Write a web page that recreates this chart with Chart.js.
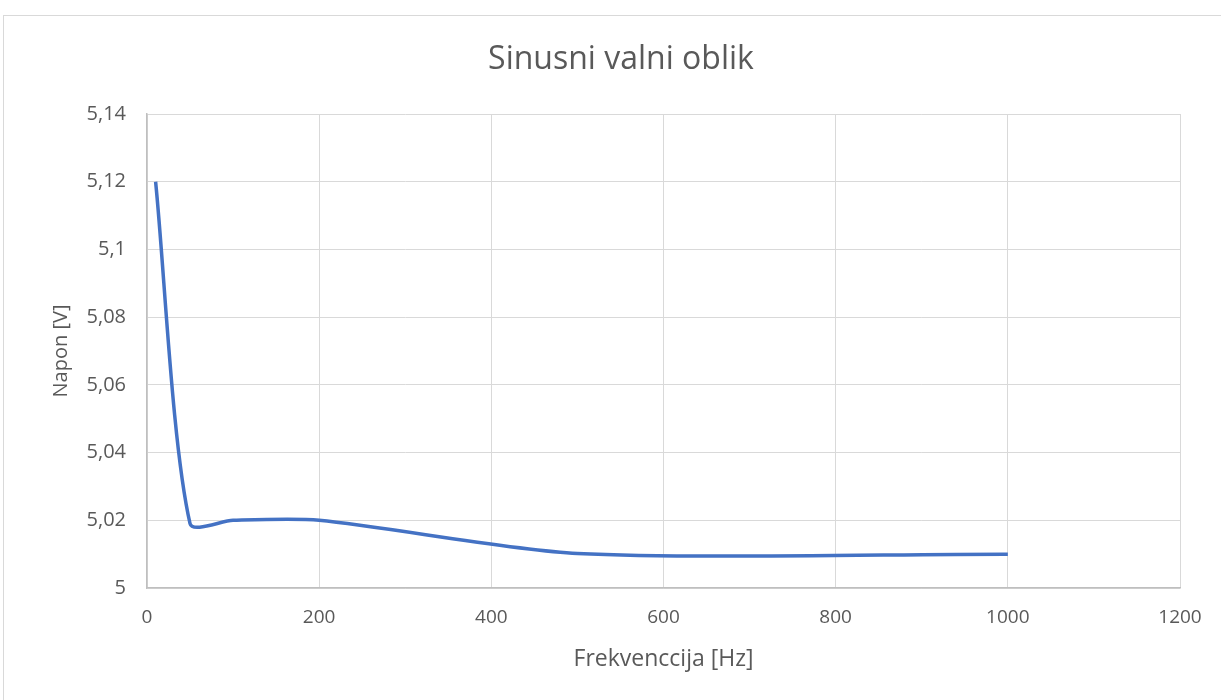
<!DOCTYPE html>
<html>
<head>
<meta charset="utf-8">
<script src="https://cdn.jsdelivr.net/npm/chart.js@4/dist/chart.umd.min.js"></script>
<style>
  body { margin: 0; background: #fff; overflow: hidden; }
  #frame { position: absolute; left: 3px; top: 15px; width: 1240px; height: 700px; border: 1px solid #d9d9d9; }
  #wrap { position: absolute; left: 0; top: 0; width: 1221px; height: 700px; }
</style>
</head>
<body>
<div id="frame"></div>
<div id="wrap"><canvas id="chart"></canvas></div>
<script>
// measured values (Hz -> V)
var frequencies = [10, 50, 100, 200, 500, 1000];
var voltages = [5.12, 5.019, 5.02, 5.02, 5.0102, 5.01];

var xTicks = [0, 200, 400, 600, 800, 1000, 1200];
var yTicks = [5, 5.02, 5.04, 5.06, 5.08, 5.1, 5.12, 5.14];

var points = [];
for (var i = 0; i < frequencies.length; i++) {
    points.push({x: frequencies[i], y: voltages[i]});
}

var gray = '#595959';
var fontName = "'Open Sans', 'Liberation Sans', sans-serif";

function commaLabel(v) {
    return String(Number(v.toFixed(2))).replace('.', ',');
}

var ctx = document.getElementById('chart').getContext('2d');
var chart = new Chart(ctx, {
    type: 'scatter',
    data: {
        datasets: [{
            data: points,
            showLine: true,
            borderColor: '#4472C4',
            borderWidth: 3.5,
            pointRadius: 0,
            tension: 0.26,
            fill: false
        }]
    },
    options: {
        responsive: true,
        maintainAspectRatio: false,
        animation: false,
        layout: { padding: { left: 21, right: 0, top: 0, bottom: 0 } },
        plugins: {
            legend: { display: false },
            tooltip: { enabled: false },
            title: {
                display: true,
                text: 'Sinusni valni oblik',
                color: gray,
                font: { family: fontName, size: 32, weight: 'normal', lineHeight: 1.2 },
                padding: { top: 41, bottom: 34.6 }
            }
        },
        scales: {
            x: {
                type: 'linear',
                min: 0,
                max: 1200,
                afterBuildTicks: function(scale) {
                    scale.ticks = xTicks.map(function(v){ return {value: v}; });
                },
                afterFit: function(scale) {
                    scale.height = 112;
                    scale.paddingRight = 41;
                },
                grid: { color: '#d9d9d9', drawTicks: false },
                border: { color: '#bfbfbf', width: 1.5 },
                ticks: {
                    color: gray,
                    padding: 18,
                    maxRotation: 0,
                    font: { family: fontName, size: 19 },
                    callback: function(v) { return String(v); }
                },
                title: {
                    display: true,
                    text: 'Frekvenccija [Hz]',
                    color: gray,
                    font: { family: fontName, size: 23 },
                    padding: { top: 0, bottom: 27 }
                }
            },
            y: {
                type: 'linear',
                min: 5,
                max: 5.14,
                afterBuildTicks: function(scale) {
                    scale.ticks = yTicks.map(function(v){ return {value: v}; });
                },
                afterFit: function(scale) { scale.width = 126; },
                grid: { color: '#d9d9d9', drawTicks: false },
                border: { color: '#bfbfbf', width: 1.5 },
                ticks: {
                    color: gray,
                    padding: 21,
                    font: { family: fontName, size: 20 },
                    callback: function(v) { return commaLabel(v); }
                },
                title: {
                    display: true,
                    text: 'Napon [V]',
                    color: gray,
                    font: { family: fontName, size: 20 },
                    padding: { top: 28, bottom: 0 }
                }
            }
        }
    }
});
</script>
</body>
</html>
